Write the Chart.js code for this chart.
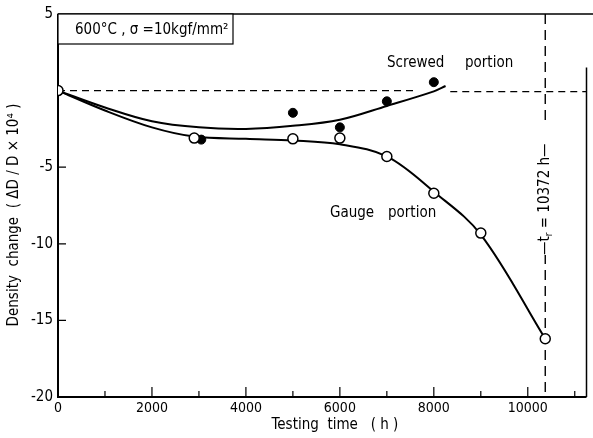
<!DOCTYPE html>
<html>
<head>
<meta charset="utf-8">
<script src="https://cdn.jsdelivr.net/npm/chart.js@4/dist/chart.umd.min.js"></script>
<style>
  html, body { margin: 0; padding: 0; background: #fff; }
  canvas { display: block; }
</style>
</head>
<body>
<canvas id="density" width="593" height="438"></canvas>
<script>
(function () {

	'use strict';

	// measured points, gauge portion (open circles)
	var gaugeTime   = [0, 2900, 5000, 6000, 7000, 8000, 9000, 10372];
	var gaugeChange = [0, -3.1, -3.15, -3.1, -4.3, -6.7, -9.3, -16.2];

	// measured points, screwed portion (filled circles)
	var screwedTime   = [3050, 5000, 6000, 7000, 8000];
	var screwedChange = [-3.2, -1.45, -2.4, -0.7, 0.55];

	// hand drawn trend curves
	var gaugeCurveTime   = [0, 1000, 2000, 2900, 4000, 5000, 6000, 7000, 8000, 9000, 10372];
	var gaugeCurveChange = [0, -1.3, -2.4, -3.0, -3.15, -3.25, -3.5, -4.3, -6.6, -9.4, -16.2];

	var screwedCurveTime   = [0, 1000, 2000, 3000, 4000, 5000, 6000, 7000, 8000, 8250];
	var screwedCurveChange = [0, -1.1, -2.0, -2.4, -2.5, -2.3, -1.9, -1.0, -0.05, 0.3];

	// rupture time
	var ruptureTime = 10372;

	var xTicks = [0, 2000, 4000, 6000, 8000, 10000];
	var yTicks = [5, -5, -10, -15, -20];

	var FONT = "'DejaVu Sans Condensed', 'DejaVu Sans', sans-serif";

	function pts(xs, ys) {
		return xs.map(function (x, i) { return { x: x, y: ys[i] }; });
	}

	var decorations = {
		id: 'decorations',
		beforeDatasetsDraw: function (chart) {
			var ctx = chart.ctx;
			var area = chart.chartArea;
			var x = chart.scales.x;
			var y = chart.scales.y;

			ctx.save();
			ctx.strokeStyle = '#000';

			// frame
			ctx.lineWidth = 2;
			ctx.beginPath();
			ctx.moveTo(area.left, area.top);
			ctx.lineTo(area.left, area.bottom);
			ctx.lineTo(area.right, area.bottom);
			ctx.stroke();
			ctx.lineWidth = 1.5;
			ctx.beginPath();
			ctx.moveTo(area.left, area.top);
			ctx.lineTo(chart.width, area.top);
			ctx.moveTo(area.right, y.getPixelForValue(1.5));
			ctx.lineTo(area.right, area.bottom);
			ctx.stroke();

			// inward ticks
			ctx.lineWidth = 1.2;
			ctx.beginPath();
			for (var t = 1000; t <= 11000; t += 1000) {
				var px = x.getPixelForValue(t);
				ctx.moveTo(px, area.bottom);
				ctx.lineTo(px, area.bottom - (t % 2000 === 0 ? 10 : 6));
			}
			yTicks.forEach(function (v) {
				if (v === -20 || v === 5) return;
				var py = y.getPixelForValue(v);
				ctx.moveTo(area.left, py);
				ctx.lineTo(area.left + 8, py);
			});
			ctx.stroke();
			ctx.restore();
		},
		afterDatasetsDraw: function (chart) {
			var ctx = chart.ctx;
			var area = chart.chartArea;
			var x = chart.scales.x;

			ctx.save();
			ctx.strokeStyle = '#000';
			ctx.fillStyle = '#000';

			// condition box
			ctx.lineWidth = 1.2;
			ctx.fillStyle = '#fff';
			ctx.fillRect(area.left, area.top, 175, 30);
			ctx.strokeRect(area.left, area.top, 175, 30);
			ctx.fillStyle = '#000';
			ctx.font = '15px ' + FONT;
			ctx.textBaseline = 'middle';
			ctx.textAlign = 'left';
			ctx.fillText('600\u00b0C , \u03c3 =10kgf/mm\u00b2', area.left + 17, area.top + 16);

			// series labels
			ctx.font = '15px ' + FONT;
			ctx.fillText('Screwed', 387, 63);
			ctx.fillText('portion', 465, 63);
			ctx.fillText('Gauge', 330, 213);
			ctx.fillText('portion', 388, 213);

			// rupture label along the dashed line
			var rx = x.getPixelForValue(ruptureTime);
			ctx.save();
			ctx.translate(rx, 189);
			ctx.rotate(-Math.PI / 2);
			ctx.fillStyle = '#fff';
			ctx.fillRect(-66, -8, 132, 16);
			ctx.fillStyle = '#000';
			ctx.font = '15px ' + FONT;
			ctx.textAlign = 'left';
			ctx.textBaseline = 'middle';
			var left = -66;
			ctx.fillText('\u2014t', left, 0);
			var w1 = ctx.measureText('\u2014t').width;
			ctx.font = '10px ' + FONT;
			ctx.fillText('r', left + w1, 4);
			var w2 = ctx.measureText('r').width;
			ctx.font = '15px ' + FONT;
			ctx.fillText(' = 10372 h\u2014', left + w1 + w2, 0);
			ctx.restore();

			// axis titles
			ctx.font = '15px ' + FONT;
			ctx.textAlign = 'center';
			ctx.textBaseline = 'middle';
			ctx.fillText('Testing  time   ( h )', 335, 425);
			ctx.save();
			ctx.translate(14, 215);
			ctx.rotate(-Math.PI / 2);
			ctx.fillText('Density  change  ( \u0394D / D \u00d7 10\u2074 )', 0, 0);
			ctx.restore();

			ctx.restore();
		}
	};

	var canvas = document.getElementById('density');

	var chart = new Chart(canvas, {

		type: 'scatter',
		data: {
			datasets: [{
				label: 'Gauge portion',
				data: pts(gaugeTime, gaugeChange),
				showLine: false,
				pointRadius: 5,
				pointBackgroundColor: '#fff',
				pointBorderColor: '#000',
				pointBorderWidth: 1.5,
				order: 1
			}, {
				label: 'Screwed portion',
				data: pts(screwedTime, screwedChange),
				showLine: false,
				pointRadius: 4.5,
				pointBackgroundColor: '#000',
				pointBorderColor: '#000',
				pointBorderWidth: 1,
				order: 2
			}, {
				label: 'gauge curve',
				data: pts(gaugeCurveTime, gaugeCurveChange),
				showLine: true,
				pointRadius: 0,
				borderColor: '#000',
				borderWidth: 2,
				tension: 0.35,
				order: 3
			}, {
				label: 'screwed curve',
				data: pts(screwedCurveTime, screwedCurveChange),
				showLine: true,
				pointRadius: 0,
				borderColor: '#000',
				borderWidth: 2,
				tension: 0.35,
				order: 4
			}, {
				label: 'zero',
				data: [{ x: 0, y: 0 }, { x: 7600, y: 0 }],
				showLine: true,
				pointRadius: 0,
				borderColor: '#000',
				borderWidth: 1.2,
				borderDash: [7, 5],
				order: 5
			}, {
				label: 'zero right',
				data: [{ x: 8350, y: -0.07 }, { x: 11250, y: -0.07 }],
				showLine: true,
				pointRadius: 0,
				borderColor: '#000',
				borderWidth: 1.2,
				borderDash: [7, 5],
				order: 6
			}, {
				label: 'rupture',
				data: [{ x: ruptureTime, y: 5 }, { x: ruptureTime, y: -20 }],
				showLine: true,
				pointRadius: 0,
				borderColor: '#000',
				borderWidth: 1.4,
				borderDash: [10, 6],
				order: 7
			}]
		},
		options: {
			responsive: false,
			animation: false,
			devicePixelRatio: 1,
			layout: { padding: { top: 14, right: 1, left: 0, bottom: 0 } },
			plugins: {
				legend: { display: false },
				tooltip: { enabled: false }
			},
			scales: {
				x: {
					type: 'linear',
					min: 0,
					max: 11250,
					afterFit: function (s) { s.height = 41; },
					afterBuildTicks: function (s) {
						s.ticks = xTicks.map(function (v) { return { value: v }; });
					},
					ticks: {
						color: '#000',
						padding: 3,
						maxRotation: 0,
						autoSkip: false,
						font: { family: FONT, size: 14 },
						callback: function (v) { return String(v); }
					},
					grid: { display: false, drawTicks: false, tickLength: 0 },
					border: { display: false }
				},
				y: {
					min: -20,
					max: 5,
					afterFit: function (s) { s.width = 58; },
					afterBuildTicks: function (s) {
						s.ticks = yTicks.map(function (v) { return { value: v }; });
					},
					ticks: {
						color: '#000',
						padding: 5,
						autoSkip: false,
						font: { family: FONT, size: 15 },
						callback: function (v) { return String(v); }
					},
					grid: { display: false, drawTicks: false, tickLength: 0 },
					border: { display: false }
				}
			}
		},
		plugins: [decorations]
	});

})();
</script>
</body>
</html>
